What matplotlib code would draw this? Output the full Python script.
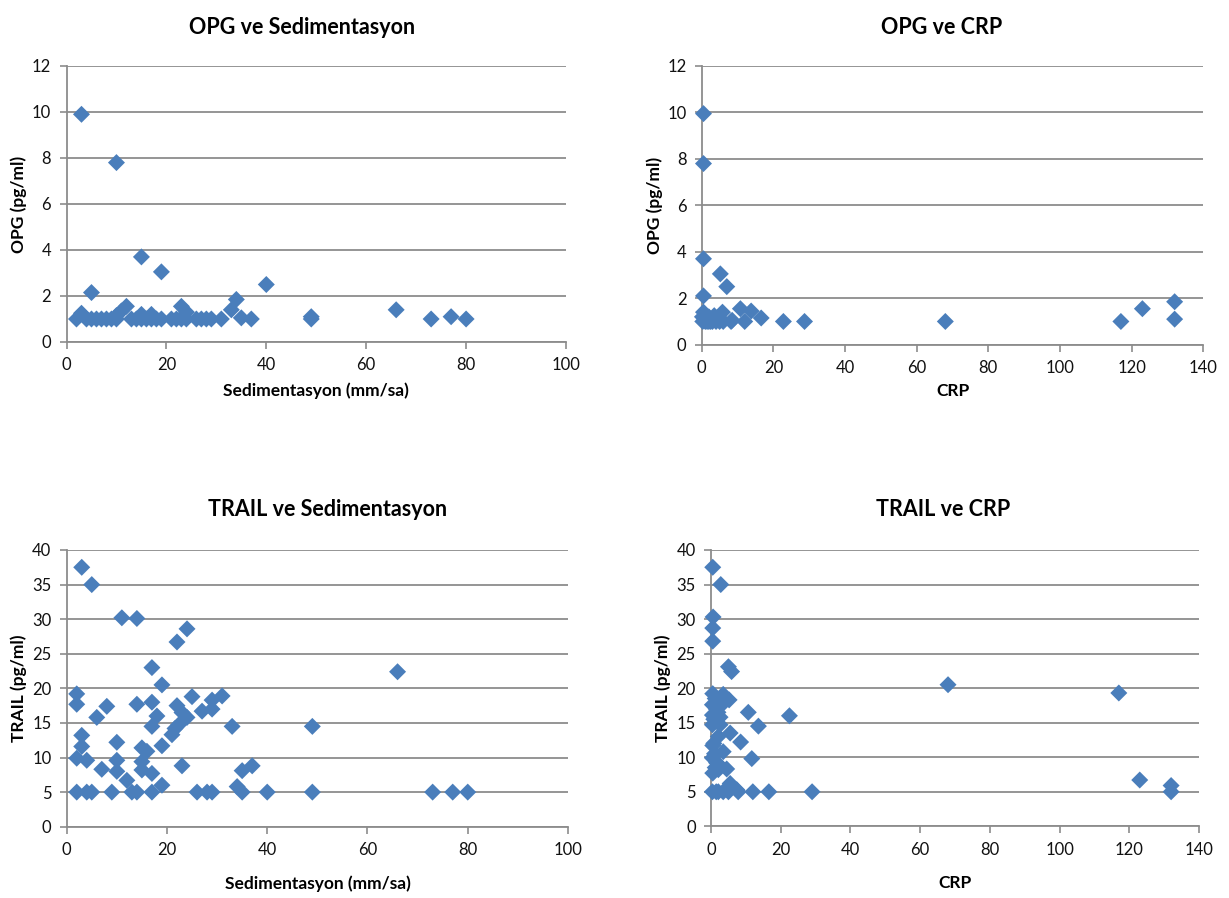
import matplotlib
matplotlib.use("Agg")
import matplotlib.pyplot as plt

plt.rcParams["font.family"] = ["Lato", "DejaVu Sans"]

# ── data ───────────────────────────────────────────────────────────────────
sed_opg_x = [2, 3, 3, 4, 5, 5, 6, 7, 8, 9, 10, 10, 10, 11, 12, 13, 14, 15, 15, 15,
             16, 17, 17, 18, 19, 19, 21, 22, 23, 23, 24, 24, 26, 27, 28, 29, 31, 33, 34, 35,
             37, 40, 49, 49, 66, 73, 77, 80]
sed_opg_y = [1.0, 9.9, 1.25, 1.0, 2.15, 1.0, 1.0, 1.0, 1.0, 1.0, 7.8, 1.0, 1.15, 1.35, 1.55, 1.0, 1.0, 3.7, 1.2, 1.0,
             1.0, 1.2, 1.0, 1.0, 3.05, 1.0, 1.0, 1.0, 1.55, 1.0, 1.3, 1.0, 1.0, 1.0, 1.0, 1.0, 1.0, 1.4, 1.85, 1.05,
             1.0, 2.5, 1.0, 1.1, 1.4, 1.0, 1.1, 1.0]

crp_opg_x = [0.5, 0.5, 0.5, 5.2, 7, 0.5, 10.8, 13.8, 5.8, 0.5, 16.6, 22.8, 28.7, 12, 8.2, 68, 117, 123, 132, 132,
             0.3, 1, 1.5, 2, 2.5, 3, 4, 5, 0.8, 2, 3.5, 4.5, 6, 8.5, 1, 0.2]
crp_opg_y = [9.95, 7.8, 3.7, 3.05, 2.5, 2.1, 1.55, 1.45, 1.4, 1.4, 1.15, 1.0, 1.0, 1.0, 1.0, 1.0, 1.0, 1.55, 1.85, 1.1,
             1.0, 1.0, 1.0, 1.0, 1.0, 1.0, 1.0, 1.0, 1.25, 1.2, 1.25, 1.1, 1.0, 1.05, 1.1, 1.2]

sed_trail_x = [3, 5, 11, 14, 24, 22, 17, 19, 2, 2, 8, 14, 17, 6, 18, 17, 22, 23, 24, 22.3,
               21.6, 21, 25, 27, 29, 29, 31, 33, 49, 3, 3, 2, 4, 10, 10, 10, 7, 15, 16, 15,
               15, 19, 17, 12, 19, 23, 34, 35, 37, 66,
               2, 4, 5, 9, 13, 14, 17, 26, 28, 29, 35, 40, 49, 73, 77, 80]
sed_trail_y = [37.5, 35, 30.2, 30.1, 28.6, 26.7, 23, 20.5, 19.2, 17.7, 17.4, 17.7, 18, 15.8, 16, 14.5, 17.5, 16.5, 15.8, 14.7,
               14.2, 13.3, 18.8, 16.7, 18.3, 17, 18.9, 14.5, 14.5, 13.2, 11.6, 9.9, 9.6, 12.2, 9.6, 8.0, 8.3, 11.4, 10.9, 9.4,
               8.2, 11.7, 7.7, 6.7, 6.0, 8.8, 5.8, 8.1, 8.8, 22.4,
               5, 5, 5, 5, 5, 5, 5, 5, 5, 5, 5, 5, 5, 5, 5, 5]

crp_trail_x = [0.5, 2.8, 0.6, 0.5, 0.5, 5, 5.9, 0.5, 3.5, 5.2, 0.4, 3.1, 10.7, 22.5, 13.6, 0.4, 2.6, 0.4, 2.6, 5.5,
               2.1, 8.5, 0.5, 3.5, 11.7, 0.4, 1.6, 4.5, 0.5, 2.1, 5.5, 7.4, 68, 117, 123, 132, 132,
               1.2, 1.5, 2, 0.8, 1, 1.2, 2.5, 0.8,
               0.4, 1.5, 2.1, 3.5, 5, 7.8, 12, 16.6, 29]
crp_trail_y = [37.5, 35, 30.3, 28.7, 26.8, 23.1, 22.4, 19.2, 19.1, 18.3, 17.6, 17.6, 16.5, 16, 14.5, 16.1, 15.8, 14.7, 14.7, 13.5,
               13, 12.2, 11.7, 10.8, 9.8, 9.9, 9.2, 8.3, 7.7, 8.2, 6.2, 5.3, 20.5, 19.3, 6.7, 5.9, 5.0,
               18.5, 17, 16.5, 12, 10.5, 8.5, 8.8, 15.5,
               5, 5, 5, 5, 5, 5, 5, 5, 5]

panels = [
    # (x, y, title, xlabel, ylabel, xmax, ymax, ystep)
    (sed_opg_x, sed_opg_y, "OPG ve Sedimentasyon", "Sedimentasyon (mm/sa)", "OPG (pg/ml)", 100, 12, 2),
    (crp_opg_x, crp_opg_y, "OPG ve CRP", "CRP", "OPG (pg/ml)", 140, 12, 2),
    (sed_trail_x, sed_trail_y, "TRAIL ve Sedimentasyon", "Sedimentasyon (mm/sa)", "TRAIL (pg/ml)", 100, 40, 5),
    (crp_trail_x, crp_trail_y, "TRAIL ve CRP", "CRP", "TRAIL (pg/ml)", 140, 40, 5),
]

# layout in pixels: axes box (left, right, top, bottom), title centre,
# x-label centre, y-label centre
boxes = [(66.5, 566, 66, 342), (701.7, 1203.3, 66, 344.7),
         (66.7, 568, 550, 826.7), (711, 1199, 550, 826.3)]
title_pos = [(302, 27), (942, 27), (328, 509), (943, 509)]
xlab_pos = [(316, 391), (953, 391), (318, 884), (955, 883)]
ylab_pos = [(19, 204), (655, 205), (19, 688), (663, 688)]

W, H = 1229, 898
GRID = "#8c8c8c"
MARK = "#4a7ebb"

fig = plt.figure(figsize=(W / 100, H / 100), dpi=100)

for panel, box, tp, xp, yp in zip(panels, boxes, title_pos, xlab_pos, ylab_pos):
    x, y, title, xl, yl, xmax, ymax, ystep = panel
    l, r, t, b = box
    ax = fig.add_axes([l / W, 1 - b / H, (r - l) / W, (b - t) / H])
    ax.scatter(x, y, marker="D", s=75, color=MARK, edgecolors="none", zorder=3, clip_on=False)
    ax.set_xlim(0, xmax)
    ax.set_ylim(0, ymax)
    ax.set_xticks(range(0, xmax + 1, 20))
    ax.set_yticks(range(0, ymax + 1, ystep))
    ax.yaxis.grid(True, color=GRID, lw=1.3)
    ax.set_axisbelow(True)
    for s in ("top", "right"):
        ax.spines[s].set_visible(False)
    for s in ("left", "bottom"):
        ax.spines[s].set_color(GRID)
        ax.spines[s].set_linewidth(1.3)
    ax.tick_params(direction="out", length=5, width=1.2, color=GRID,
                   labelsize=12, labelcolor="#111111", pad=6)

    ax.set_xlabel(xl, fontsize=12.5, fontweight="bold", va="center")
    ax.xaxis.set_label_coords((xp[0] - l) / (r - l), -(xp[1] - b) / (b - t))
    ax.set_ylabel(yl, fontsize=12.5, fontweight="bold", va="center")
    ax.yaxis.set_label_coords((yp[0] - l) / (r - l), (b - yp[1]) / (b - t))

    fig.text(tp[0] / W, 1 - tp[1] / H, title, fontsize=15.5, fontweight="bold",
             ha="center", va="center")

fig.savefig("out.png", dpi=100)
